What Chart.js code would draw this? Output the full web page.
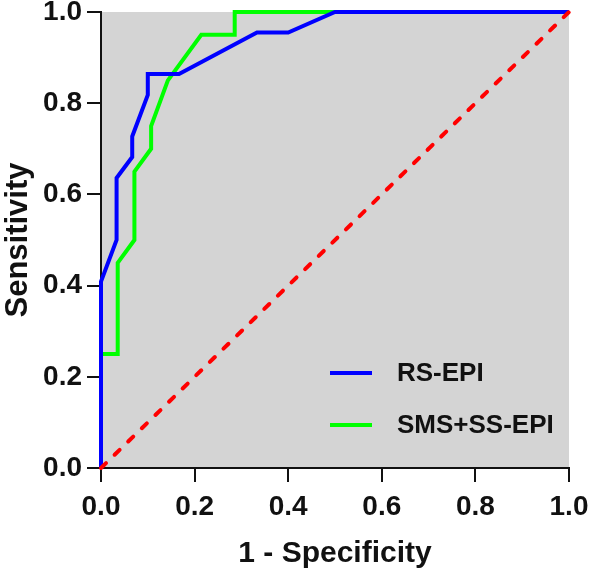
<!DOCTYPE html>
<html>
<head>
<meta charset="utf-8">
<script src="https://cdn.jsdelivr.net/npm/chart.js@4.4.1/dist/chart.umd.min.js"></script>
<style>
  html, body { margin: 0; padding: 0; background: #fff; }
  #wrap { width: 590px; height: 572px; }
</style>
</head>
<body>
<div id="wrap"><canvas id="roc" width="590" height="572"></canvas></div>
<script>
// ROC points
const rsFpr = [0, 0, 0.0333, 0.0333, 0.0667, 0.0667, 0.1, 0.1, 0.1667, 0.3333, 0.4, 0.5, 1.0];
const rsSens = [0, 0.409, 0.5, 0.636, 0.682, 0.727, 0.818, 0.864, 0.864, 0.955, 0.955, 1.0, 1.0];

const smsFpr = [0, 0, 0.0357, 0.0357, 0.0714, 0.0714, 0.1071, 0.1071, 0.1429, 0.2143, 0.2857, 0.2857, 1.0];
const smsSens = [0, 0.25, 0.25, 0.45, 0.5, 0.65, 0.7, 0.75, 0.85, 0.95, 0.95, 1.0, 1.0];

const refX = [0, 1];
const refY = [0, 1];

const legendLabels = ['RS-EPI', 'SMS+SS-EPI'];
const legendColors = ['#0000ff', '#00ff00'];
const tickValues = [0, 0.2, 0.4, 0.6, 0.8, 1.0];

const FONT = '"Liberation Sans", Arial, sans-serif';
const toPts = (xs, ys) => xs.map((x, i) => ({ x, y: ys[i] }));

const plotBg = {
  id: 'plotBg',
  beforeDraw(chart) {
    const { ctx, chartArea: a } = chart;
    ctx.save();
    ctx.fillStyle = '#d4d4d4';
    ctx.fillRect(a.left, a.top, a.right - a.left, a.bottom - a.top);
    ctx.restore();
  }
};

// legend sits inside the plot, bottom right
const innerLegend = {
  id: 'innerLegend',
  afterDatasetsDraw(chart) {
    const { ctx } = chart;
    ctx.save();
    ctx.font = 'bold 26px ' + FONT;
    ctx.textBaseline = 'middle';
    ctx.fillStyle = '#111';
    const rows = [373, 425];
    legendLabels.forEach((lab, i) => {
      ctx.strokeStyle = legendColors[i];
      ctx.lineWidth = 4;
      ctx.beginPath();
      ctx.moveTo(330, rows[i]);
      ctx.lineTo(372, rows[i]);
      ctx.stroke();
      ctx.fillText(lab, 397, rows[i] + 1);
    });
    ctx.restore();
  }
};

const axisCommon = {
  type: 'linear',
  min: 0,
  max: 1,
  grid: { drawOnChartArea: false, drawTicks: true, tickLength: 14, color: '#111', lineWidth: 2 },
  border: { display: true, color: '#111', width: 2 },
  afterBuildTicks: (s) => { s.ticks = tickValues.map(v => ({ value: v })); },
  ticks: {
    color: '#111',
    font: { family: FONT, size: 28, weight: 'bold' },
    callback: (v) => Number(v).toFixed(1)
  }
};

new Chart(document.getElementById('roc'), {
  type: 'scatter',
  data: {
    datasets: [
      { label: 'ref', data: toPts(refX, refY), showLine: true, borderColor: '#ff0000', borderWidth: 4,
        borderDash: [7, 12], borderCapStyle: 'round', pointRadius: 0, fill: false },
      { label: legendLabels[0], data: toPts(rsFpr, rsSens), showLine: true, borderColor: legendColors[0],
        borderWidth: 4, pointRadius: 0, tension: 0, fill: false },
      { label: legendLabels[1], data: toPts(smsFpr, smsSens), showLine: true, borderColor: legendColors[1],
        borderWidth: 4, pointRadius: 0, tension: 0, fill: false }
    ]
  },
  options: {
    responsive: false,
    animation: false,
    clip: false,
    layout: { padding: { top: 12, right: 21, left: 0, bottom: 0 } },
    plugins: { legend: { display: false }, tooltip: { enabled: false } },
    scales: {
      x: Object.assign({}, axisCommon, {
        position: 'bottom',
        ticks: Object.assign({}, axisCommon.ticks, { padding: 8 }),
        afterFit: (s) => { s.height = 104; s.paddingLeft = 0; s.paddingRight = 0; },
        title: { display: true, text: '1 - Specificity', color: '#111', padding: 0,
          font: { family: FONT, size: 30, weight: 'bold' } }
      }),
      y: Object.assign({}, axisCommon, {
        position: 'left',
        ticks: Object.assign({}, axisCommon.ticks, { padding: 5 }),
        afterFit: (s) => { s.width = 101; s.paddingTop = 0; s.paddingBottom = 0; },
        title: { display: true, text: 'Sensitivity', color: '#111', padding: 0,
          font: { family: FONT, size: 31, weight: 'bold' } }
      })
    }
  },
  plugins: [plotBg, innerLegend]
});
</script>
</body>
</html>
